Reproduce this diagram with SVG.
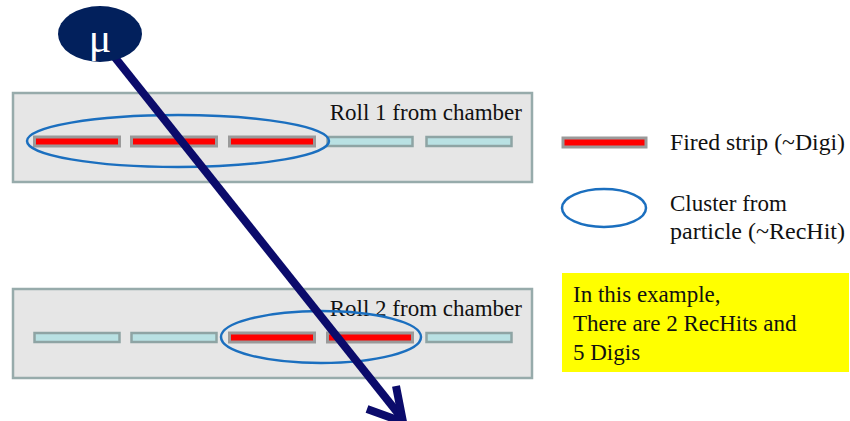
<svg xmlns="http://www.w3.org/2000/svg" width="850" height="421" viewBox="0 0 850 421">
<style>
.roll{fill:#e6e6e6;stroke:#97abab;stroke-width:2.5}
.strip{fill:#b9e1e3;stroke:#8ea4a4;stroke-width:2.5}
.fired{fill:#ff0000;stroke:#9a9a9a;stroke-width:3}
.clu{fill:none;stroke:#1b6fbf;stroke-width:2.5}
.t{font-family:'Liberation Serif','Times New Roman',Tinos,'Noto Serif','DejaVu Serif',serif;font-size:23px;fill:#111}
.arrow{fill:none;stroke:#0b0b6b;stroke-width:8}
</style>
<g id="roll1">
<rect class="roll" x="13" y="93" width="519" height="89"/>
<rect class="fired" x="34.5" y="137" width="85" height="9"/>
<rect class="fired" x="131.5" y="137" width="85" height="9"/>
<rect class="fired" x="229.5" y="137" width="85" height="9"/>
<rect class="strip" x="327.5" y="137" width="85" height="9"/>
<rect class="strip" x="426.5" y="137" width="85" height="9"/>
<ellipse class="clu" cx="178" cy="141" rx="151" ry="26"/>
<text class="t" x="522" y="120" text-anchor="end">Roll 1 from chamber</text>
</g>
<g id="roll2">
<rect class="roll" x="13" y="289" width="519" height="89"/>
<rect class="strip" x="34.5" y="333" width="85" height="9"/>
<rect class="strip" x="131.5" y="333" width="85" height="9"/>
<rect class="fired" x="229.5" y="333" width="85" height="9"/>
<rect class="fired" x="327.5" y="333" width="85" height="9"/>
<rect class="strip" x="426.5" y="333" width="85" height="9"/>
<text class="t" x="522" y="316" text-anchor="end">Roll 2 from chamber</text>
<ellipse class="clu" cx="321" cy="337" rx="100" ry="26"/>
</g>
<g id="legend">
<rect class="fired" x="563" y="138" width="83" height="9"/>
<text class="t" x="670" y="150" textLength="175" lengthAdjust="spacingAndGlyphs">Fired strip (~Digi)</text>
<ellipse class="clu" cx="604" cy="208" rx="42" ry="19"/>
<text class="t" x="670" y="211">Cluster from</text>
<text class="t" x="670" y="239" textLength="175" lengthAdjust="spacingAndGlyphs">particle (~RecHit)</text>
</g>
<g id="note">
<rect x="562" y="273" width="287" height="99" fill="#ffff00"/>
<text class="t" x="573" y="302">In this example,</text>
<text class="t" x="573" y="331">There are 2 RecHits and</text>
<text class="t" x="573" y="360">5 Digis</text>
</g>
<g id="connectors">
<line class="arrow" x1="105" y1="45" x2="401" y2="417"/>
<polyline class="arrow" stroke-width="9" points="367,409 403,422 396,386"/>
</g>
<g id="muon">
<ellipse cx="100" cy="34" rx="42" ry="28" fill="#02205c"/>
<text class="t" x="100" y="52" text-anchor="middle" font-size="42" style="font-size:42px;fill:#ffffff">μ</text>
</g>
</svg>
